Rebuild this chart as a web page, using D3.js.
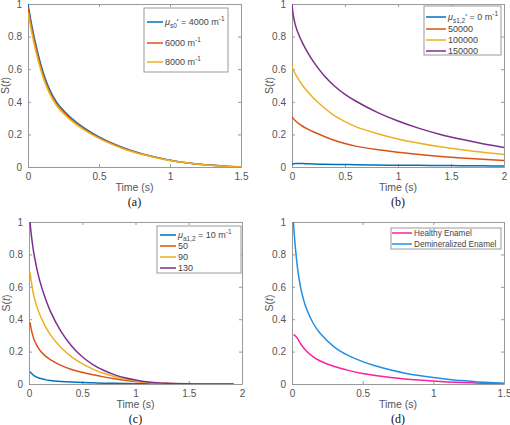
<!DOCTYPE html>
<html><head><meta charset="utf-8">
<script src="https://cdn.jsdelivr.net/npm/d3@7"></script>
<style>body{margin:0;background:#fff}svg{display:block}</style>
</head><body><svg id="c" width="510" height="425"></svg>
<script>
// ---- Data ----
const timeA = [0,0.02,0.05,0.1,0.15,0.2,0.25,0.3,0.4,0.5,0.6,0.7,0.8,0.9,1.0,1.1,1.2,1.3,1.4,1.5];
const a4000 = [1.0,0.90,0.77,0.60,0.48,0.40,0.346,0.304,0.237,0.185,0.143,0.109,0.082,0.06,0.042,0.028,0.018,0.01,0.004,0.0];
const a6000 = [0.98,0.88,0.752,0.585,0.468,0.39,0.337,0.296,0.231,0.18,0.14,0.106,0.08,0.059,0.041,0.027,0.017,0.01,0.004,0];
const a8000 = [0.95,0.855,0.73,0.568,0.455,0.379,0.328,0.288,0.225,0.176,0.136,0.103,0.078,0.057,0.04,0.027,0.017,0.009,0.004,0];

const timeB = [0,0.01,0.03,0.05,0.1,0.15,0.2,0.3,0.4,0.5,0.6,0.8,1.0,1.2,1.4,1.6,1.8,2.0];
const b0 = [0.015,0.018,0.021,0.022,0.021,0.02,0.019,0.017,0.016,0.015,0.014,0.012,0.011,0.01,0.009,0.008,0.007,0.006];
const b50000 = [0.31,0.30,0.285,0.273,0.25,0.232,0.216,0.189,0.164,0.144,0.128,0.107,0.091,0.077,0.065,0.055,0.047,0.04];
const b100000 = [0.62,0.60,0.572,0.55,0.5,0.46,0.425,0.365,0.315,0.278,0.248,0.206,0.172,0.146,0.124,0.106,0.09,0.077];
const b150000 = [1.0,0.94,0.875,0.835,0.76,0.70,0.648,0.563,0.497,0.446,0.405,0.337,0.282,0.237,0.2,0.17,0.143,0.12];

const timeC = [0.01,0.02,0.05,0.1,0.15,0.2,0.3,0.4,0.5,0.6,0.7,0.8,0.9,1.0,1.1,1.2,1.3,1.5,1.7,1.92];
const c10 = [0.075,0.068,0.05,0.035,0.027,0.022,0.016,0.012,0.009,0.007,0.005,0.004,0.003,0.002,0.0015,0.001,0.0008,0.0003,0,0];
const c50 = [0.38,0.34,0.27,0.21,0.175,0.15,0.115,0.09,0.072,0.057,0.044,0.033,0.023,0.015,0.009,0.005,0.003,0.001,0,0];
const c90 = [0.69,0.64,0.53,0.43,0.36,0.305,0.225,0.168,0.126,0.092,0.066,0.046,0.03,0.019,0.011,0.006,0.003,0.001,0,0];
const c130 = [1.0,0.93,0.79,0.64,0.535,0.45,0.325,0.235,0.168,0.12,0.085,0.058,0.038,0.024,0.014,0.008,0.004,0.001,0,0];

const timeD = [0.01,0.02,0.04,0.06,0.1,0.15,0.2,0.3,0.4,0.5,0.6,0.7,0.8,0.9,1.0,1.1,1.2,1.3,1.4,1.5];
const dHealthy = [0.305,0.30,0.28,0.25,0.205,0.168,0.142,0.108,0.084,0.065,0.051,0.04,0.031,0.024,0.018,0.013,0.009,0.006,0.003,0.001];
const dDemin = [1.0,0.88,0.71,0.6,0.47,0.375,0.312,0.228,0.175,0.138,0.109,0.086,0.067,0.052,0.04,0.03,0.021,0.014,0.009,0.005];

const xTicksA = [0,0.5,1,1.5];
const xTicks2 = [0,0.5,1,1.5,2];
const yTicks = [0,0.2,0.4,0.6,0.8,1];

const BLUE="#0072BD", ORANGE="#D95319", YELLOW="#EDB120", PURPLE="#7E2F8E", PINK="#FF1F9E", BLUE2="#1E90E6";

const panels = [
  {box:[28,4,241,167], xmax:1.5, xt:xTicksA, cap:"(a)", t:timeA,
   series:[{v:a4000,c:BLUE},{v:a6000,c:ORANGE},{v:a8000,c:YELLOW}],
   leg:{box:[144,8,228,72], rows:[22,43,62], lx:[147,163], tx:165, size:9,
        labels:[[["μ","i"],["s0","sub"],["' = 4000 m",""],["-1","sup"]],[["6000 m",""],["-1","sup"]],[["8000 m",""],["-1","sup"]]]}},
  {box:[292,4,504,167], xmax:2, xt:xTicks2, cap:"(b)", t:timeB,
   series:[{v:b0,c:BLUE},{v:b50000,c:ORANGE},{v:b100000,c:YELLOW},{v:b150000,c:PURPLE}],
   leg:{box:[424,6,501,55], rows:[17,29,40,51], lx:[426,446], tx:448, size:9,
        labels:[[["μ","i"],["s1,2","sub"],["' = 0 m",""],["-1","sup"]],[["50000",""]],[["100000",""]],[["150000",""]]]}},
  {box:[29,222,242,384], xmax:2, xt:xTicks2, cap:"(c)", t:timeC,
   series:[{v:c10,c:BLUE},{v:c50,c:ORANGE},{v:c90,c:YELLOW},{v:c130,c:PURPLE}],
   leg:{box:[157,226,241,273], rows:[235,246,257,268], lx:[160,176], tx:178, size:9,
        labels:[[["μ","i"],["a1,2","sub"],[" = 10 m",""],["-1","sup"]],[["50",""]],[["90",""]],[["130",""]]]}},
  {box:[292,222,504,384], xmax:1.5, xt:xTicksA, cap:"(d)", t:timeD,
   series:[{v:dHealthy,c:PINK},{v:dDemin,c:BLUE2}],
   leg:{box:[391,228,501,249], rows:[233,244], lx:[392,412], tx:414, size:8.2,
        labels:[[["Healthy Enamel",""]],[["Demineralized Enamel",""]]]}}
];

const svg = d3.select("#c");
const font = "'Liberation Sans', Arial, sans-serif";
const axisCol = "#9a9a9a", textCol = "#555";

panels.forEach(p => {
  const [x0,y0,x1,y1] = p.box;
  const x = d3.scaleLinear().domain([0,p.xmax]).range([x0,x1]);
  const y = d3.scaleLinear().domain([0,1]).range([y1,y0]);
  const g = svg.append("g");
  const xa = g.append("g").attr("transform",`translate(0,${y1})`)
    .call(d3.axisBottom(x).tickValues(p.xt).tickSizeInner(-3).tickSizeOuter(0).tickPadding(6).tickFormat(d3.format("~g")));
  const xt = g.append("g").attr("transform",`translate(0,${y0})`)
    .call(d3.axisTop(x).tickValues(p.xt).tickSizeInner(-3).tickSizeOuter(0).tickFormat(""));
  const ya = g.append("g").attr("transform",`translate(${x0},0)`)
    .call(d3.axisLeft(y).tickValues(yTicks).tickSizeInner(-3).tickSizeOuter(0).tickPadding(6).tickFormat(d3.format("~g")));
  const yr = g.append("g").attr("transform",`translate(${x1},0)`)
    .call(d3.axisRight(y).tickValues(yTicks).tickSizeInner(-3).tickSizeOuter(0).tickFormat(""));
  [xa,xt,ya,yr].forEach(a => {
    a.select(".domain").attr("stroke",axisCol);
    a.selectAll(".tick line").attr("stroke",axisCol);
    a.selectAll("text").attr("fill",textCol).style("font-family",font).style("font-size","10px");
  });
  const clipId = "clip"+p.cap.replace(/\W/g,"");
  svg.append("clipPath").attr("id",clipId).append("rect").attr("x",x0).attr("y",y0-1).attr("width",x1-x0).attr("height",y1-y0+1);
  const line = d3.line().x((d,i)=>x(p.t[i])).y(d=>y(d)).curve(d3.curveCatmullRom.alpha(0.5));
  p.series.forEach(s => {
    g.append("path").attr("d",line(s.v)).attr("fill","none").attr("stroke",s.c)
      .attr("stroke-width",1.5).attr("clip-path",`url(#${clipId})`);
  });
  g.append("text").attr("x",(x0+x1)/2).attr("y",y1+24).attr("text-anchor","middle")
    .attr("fill",textCol).style("font-family",font).style("font-size","10.5px").text("Time (s)");
  const yl = g.append("text").attr("transform",`translate(${x0-19},${(y0+y1)/2}) rotate(-90)`)
    .attr("text-anchor","middle").attr("fill",textCol).style("font-family",font).style("font-size","10.5px");
  yl.append("tspan").text("S(");
  yl.append("tspan").style("font-style","italic").text("t");
  yl.append("tspan").text(")");
  g.append("text").attr("x",(x0+x1)/2).attr("y",y1+39).attr("text-anchor","middle")
    .attr("fill","#111").style("font-family","'Liberation Serif', 'Times New Roman', serif").style("font-size","12px").text(p.cap);
  const L = p.leg;
  g.append("rect").attr("x",L.box[0]).attr("y",L.box[1]).attr("width",L.box[2]-L.box[0]).attr("height",L.box[3]-L.box[1])
    .attr("fill","#fff").attr("stroke",axisCol).attr("stroke-width",1);
  p.series.forEach((s,i) => {
    const ry = L.rows[i];
    g.append("line").attr("x1",L.lx[0]).attr("x2",L.lx[1]).attr("y1",ry).attr("y2",ry).attr("stroke",s.c).attr("stroke-width",1.5);
    const t = g.append("text").attr("x",L.tx).attr("y",ry+3.3).attr("fill","#444")
      .style("font-family",font).style("font-size",L.size+"px");
    L.labels[i].forEach(([str,kind]) => {
      const ts = t.append("tspan").text(str);
      if (kind==="sub") ts.attr("dy",3).style("font-size","6.5px");
      else if (kind==="sup") ts.attr("dy",-4).style("font-size","6.5px");
      else if (kind==="i") ts.style("font-style","italic");
    });
    let off = 0;
    t.selectAll("tspan").each(function(){
      const el = d3.select(this); const dy = +el.attr("dy")||0;
      if (!dy && off) { el.attr("dy", -off); off = 0; } else off += dy;
    });
  });
});
</script></body></html>
